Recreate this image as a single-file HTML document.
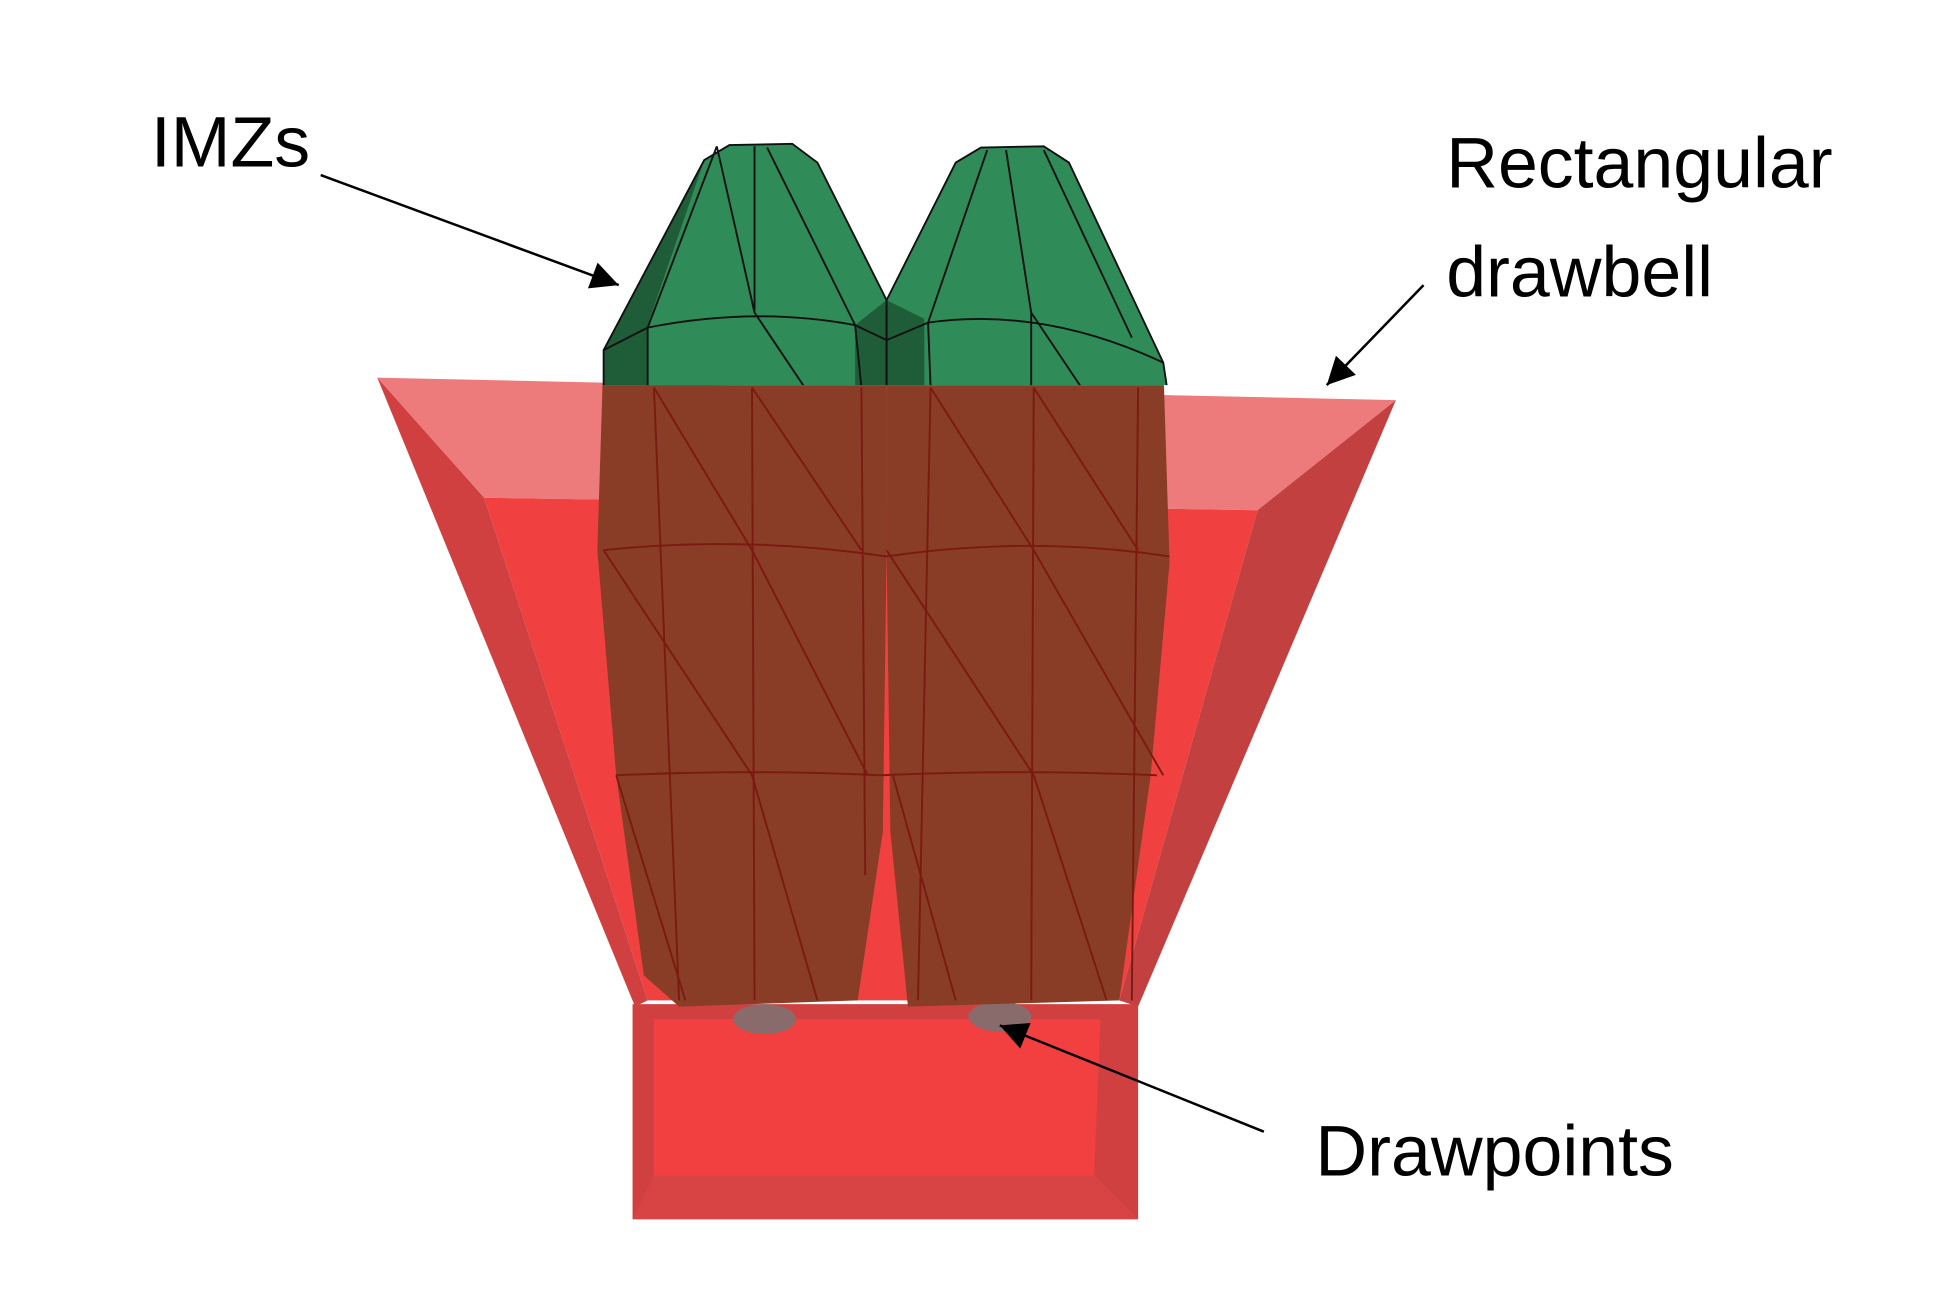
<!DOCTYPE html>
<html><head><meta charset="utf-8"><style>
html,body{margin:0;padding:0;background:#fff;width:1953px;height:1303px;overflow:hidden}
svg{display:block}
text{font-family:"Liberation Sans",sans-serif;font-size:57px;fill:#000}
</style></head><body>
<svg width="1953" height="1303" viewBox="0 0 1553 1042" preserveAspectRatio="none">
<defs>
<marker id="a" viewBox="0 0 10 10" refX="10" refY="5" markerWidth="28" markerHeight="22" markerUnits="userSpaceOnUse" orient="auto"><path d="M0,0 L10,5 L0,10z" fill="#000"/></marker>
<clipPath id="gc"><rect x="0" y="0" width="1553" height="308"/></clipPath>
<clipPath id="bc"><rect x="0" y="308" width="1553" height="800"/></clipPath>
</defs>
<polygon points="300,302 1110,320 1000,408 385,398" fill="#ee7b7b"/>
<polygon points="385,398 1000,408 890,800 515,800" fill="#f04040"/>
<polygon points="300,302 385,398 515,800 505,805" fill="#d04040"/>
<polygon points="1110,320 905,805 890,800 1000,408" fill="#c24040"/>
<rect x="503" y="803" width="402" height="172" fill="#d04040"/>
<polygon points="520,815 875,815 870,940 520,940" fill="#f23f3f"/>
<polygon points="503,975 905,975 870,940 520,940" fill="#d84444"/>
<ellipse cx="608" cy="815" rx="25" ry="12" fill="#8a6b6b"/>
<ellipse cx="795" cy="813" rx="25" ry="12" fill="#8a6b6b"/>
<g clip-path="url(#bc)">
<polygon points="480,280 475,440 490,620 512,780 540,805 682,800 702,665 705,440 705,240" fill="#893c26"/>
<polygon points="705,240 705,440 708,665 722,805 890,800 915,620 930,450 925,290" fill="#893c26"/>
<g stroke="#7a1a10" stroke-width="1.5" fill="none">
<path d="M480,440 Q590,428 705,445 Q820,428 930,445"/>
<path d="M490,620 Q600,615 700,620 Q810,615 920,620"/>
<path d="M520,310 L540,800 M598,310 L600,800 M685,310 L688,700 M740,310 L730,800 M822,310 L820,800 M905,310 L900,800"/>
<path d="M520,310 L598,440 M598,310 L685,440 M740,310 L822,440 M822,310 L905,440 M480,440 L598,620 M598,440 L690,620 M705,440 L822,620 M822,440 L925,620 M490,620 L545,800 M598,620 L650,800 M710,620 L760,800 M822,620 L880,800"/>
</g>
</g>
<g clip-path="url(#gc)">
<polygon points="480,280 480,310 705,310 705,240 650,130 630,115 580,116 560,128" fill="#2f8b58"/>
<polygon points="705,240 705,310 928,310 925,290 850,130 830,117 780,118 760,130" fill="#2f8b58"/>
<polygon points="480,280 480,310 515,310 515,260 560,128" fill="#1f5c38"/>
<polygon points="680,260 705,240 735,255 735,310 680,310" fill="#1f5c38"/>
<g stroke="#111" stroke-width="1.5" fill="none">
<polygon points="480,280 480,310 705,310 705,240 650,130 630,115 580,116 560,128"/>
<polygon points="705,240 705,310 928,310 925,290 850,130 830,117 780,118 760,130"/>
<path d="M480,280 L515,262 Q600,245 680,260 L705,272 L738,258 Q830,245 925,290"/>
<path d="M515,262 L570,117 M515,262 L515,310 M600,250 L600,117 M600,250 L570,117 M600,250 L640,310 M680,260 L610,118 M680,260 L685,310 M738,258 L785,120 M738,258 L740,310 M820,250 L800,120 M820,250 L860,310 M900,270 L830,120 M820,250 L820,310"/>
</g>
</g>
<g stroke="#000" stroke-width="2" fill="none">
<line x1="255" y1="140" x2="492" y2="228" marker-end="url(#a)"/>
<line x1="1132" y1="228" x2="1055" y2="308" marker-end="url(#a)"/>
<line x1="1005" y1="905" x2="795" y2="820" marker-end="url(#a)"/>
</g>
<text x="120" y="133">IMZs</text>
<text x="1150" y="150">Rectangular</text>
<text x="1150" y="237">drawbell</text>
<text x="1046" y="940">Drawpoints</text>
</svg>
</body></html>
